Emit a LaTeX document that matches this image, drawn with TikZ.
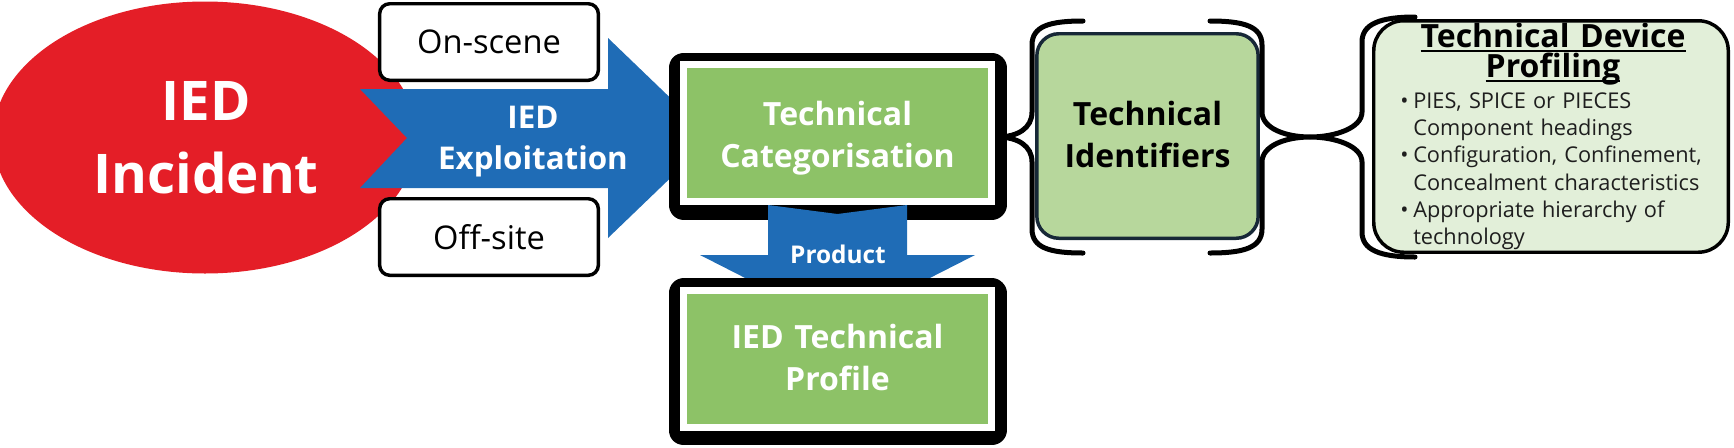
\documentclass[tikz,border=0pt]{standalone}
\usepackage{fontspec}
\setmainfont{Open Sans}
\newsavebox{\devulbox}
\newcommand{\devuline}[1]{\leavevmode\sbox{\devulbox}{#1}\rlap{\rule[-3.8pt]{\wd\devulbox}{1.2pt}}\usebox{\devulbox}}

\begin{document}
\begin{tikzpicture}[x=0.75pt,y=0.75pt,yscale=-1,xscale=1,
	greenbox/.style={rectangle, inner sep=0pt, fill={rgb, 255:red, 141; green, 194; blue, 103 }, draw=white, line width=5.25pt, minimum width=231pt, minimum height=102.75pt, preaction={draw=black, line width=22.5pt, line join=round, transform canvas={yshift=-2.6pt}}},
	scenebox/.style={rectangle, rounded corners=7.5pt, inner sep=0pt, draw=black, line width=2.6pt, fill=white, minimum width=164pt, minimum height=57.4pt, font=\fontsize{24.5}{29}\selectfont},
	boxtext/.style={anchor=base, inner sep=0pt, text width=230pt, align=center, font=\fontsize{24}{31.5}\selectfont\bfseries},
	bracestyle/.style={draw=black, line width=3.75pt, line cap=round}
	]
	\useasboundingbox (0,0) rectangle (1734,447);
	
	%Shape: Ellipse
	\fill [color={rgb, 255:red, 228; green, 30; blue, 39 }] (205,137.5) ellipse [x radius=212, y radius=136];
	
	%Shape: Rectangle
	\node [scenebox] (onscene) at (489,42) {On-scene};
	%Shape: Rectangle
	\node [scenebox] (offsite) at (489,237) {Off-site};
	
	%Shape: Right Arrow
	\fill [color={rgb, 255:red, 31; green, 108; blue, 182 }] (360,89) -- (608,89) -- (608,38) -- (712,138) -- (608,238) -- (608,188) -- (360,188) -- (407,138) -- cycle ;
	
	%Shape: Rectangle
	\node [greenbox] (catbox) at (837.5,132.75) {};
	
	%Shape: Down Arrow
	\fill [color={rgb, 255:red, 31; green, 108; blue, 182 }] (768,205) -- (837.5,214) -- (907,205) -- (907,255) -- (975,255) -- (837.5,325) -- (700,255) -- (768,255) -- cycle ;
	
	%Shape: Rectangle
	\node [greenbox] (profbox) at (837.5,358.5) {};
	
	%Shape: Rounded Rect
	\node [rectangle, rounded corners=16.5pt, inner sep=0pt, fill={rgb, 255:red, 183; green, 215; blue, 156 }, draw={rgb, 255:red, 23; green, 40; blue, 55 }, line width=2.6pt, minimum width=166pt, minimum height=153.4pt] (identbox) at (1147.5,136) {};
	%Shape: Rounded Rect
	\node [rectangle, rounded corners=22.5pt, inner sep=0pt, fill={rgb, 255:red, 226; green, 239; blue, 217 }, draw=black, line width=2.6pt, minimum width=265.9pt, minimum height=173.6pt] (devbox) at (1551,136.5) {};
	
	%Shape: Brace
	\draw [bracestyle] (1083,21) .. controls (1050,21) and (1032,26) .. (1032,45) -- (1032,112) .. controls (1032,128) and (1018,137) .. (997,137) .. controls (1018,137) and (1032,146) .. (1032,162) -- (1032,229) .. controls (1032,248) and (1050,253) .. (1083,253) ;
	%Shape: Brace
	\draw [bracestyle] (1210,21) .. controls (1243,21) and (1262,26) .. (1262,45) -- (1262,112) .. controls (1262,128) and (1285,137) .. (1310,137) .. controls (1285,137) and (1262,146) .. (1262,162) -- (1262,229) .. controls (1262,248) and (1243,253) .. (1210,253) ;
	%Shape: Brace
	\draw [bracestyle] (1415,17) .. controls (1380,17) and (1362,24) .. (1362,42) -- (1362,112) .. controls (1362,128) and (1335,137) .. (1310,137) .. controls (1335,137) and (1362,146) .. (1362,162) -- (1362,232) .. controls (1362,250) and (1380,257) .. (1415,257) ;
	
	% Text Node
	\node [boxtext, text=white, font=\fontsize{41}{54.75}\selectfont\bfseries] (incident) at (206,120) {IED\\Incident};
	% Text Node
	\node [boxtext, text=white, font=\fontsize{23.5}{30.75}\selectfont\bfseries] (exploit) at (533,128) {IED\\Exploitation};
	% Text Node
	\node [boxtext, text=white] (cattext) at (837.5,125) {Technical\\Categorisation};
	% Text Node
	\node [boxtext, text=white, font=\fontsize{18.3}{22}\selectfont\bfseries] (product) at (838,263) {Product};
	% Text Node
	\node [boxtext, text=white] (proftext) at (837.5,348) {IED Technical\\Profile};
	% Text Node
	\node [boxtext, text=black] (identtext) at (1147.5,125) {Technical\\Identifiers};
	% Text Node
	\node [boxtext, text=black, font=\fontsize{24}{22.5}\selectfont\bfseries] (devtitle) at (1553,47) {\devuline{Technical Device}\\\devuline{Profiling}};
	% Text Node
	\node [anchor=base west, inner sep=0pt, text width=245pt, align=left, text={rgb, 255:red, 30; green, 30; blue, 30 }, font=\fontsize{16.3}{20.5}\selectfont] (devlist) at (1400,108) {\makebox[9.75pt][l]{\textbullet}PIES, SPICE or PIECES\\\hspace*{9.75pt}Component headings\\\makebox[9.75pt][l]{\textbullet}Configuration, Confinement,\\\hspace*{9.75pt}Concealment characteristics\\\makebox[9.75pt][l]{\textbullet}Appropriate hierarchy of\\\hspace*{9.75pt}technology};
	
\end{tikzpicture}
\end{document}
